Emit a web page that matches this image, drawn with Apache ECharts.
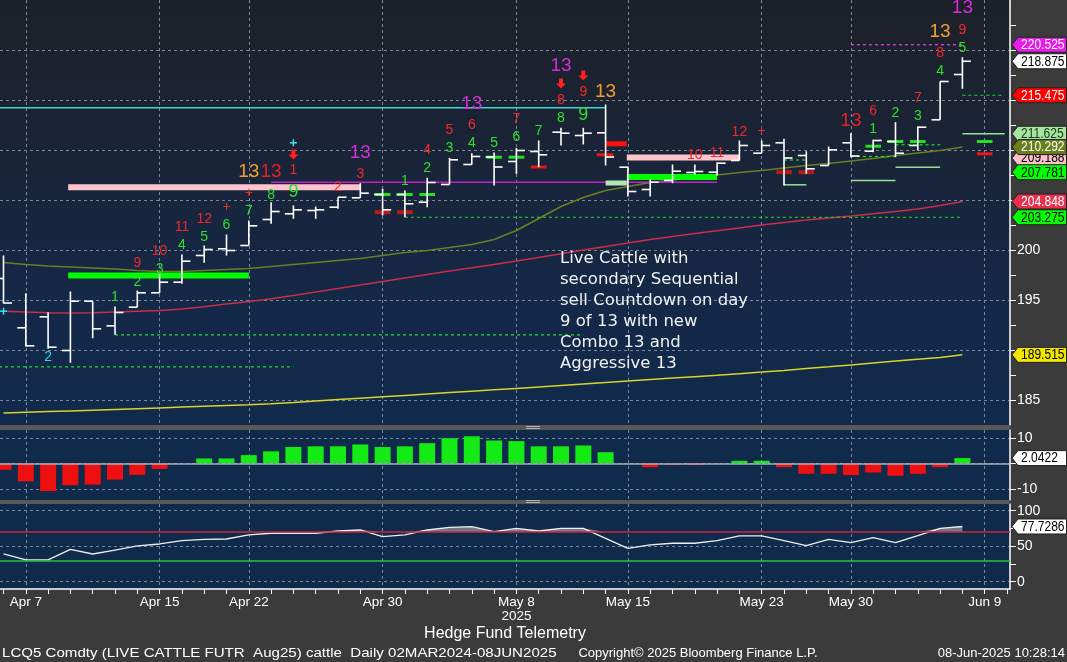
<!DOCTYPE html>
<html>
<head>
<meta charset="utf-8">
<script src="https://cdn.jsdelivr.net/npm/echarts@6/dist/echarts.min.js"></script>
<style>
html,body{margin:0;padding:0;background:#3b3b3b;}
#chart{width:1067px;height:662px;}
</style>
</head>
<body>
<div id="chart"></div>
<script>
// ---------------- DATA ----------------
const days = ['Apr 4','Apr 7','Apr 8','Apr 9','Apr 10','Apr 11','Apr 14','Apr 15','Apr 16','Apr 17',
  'Apr 21','Apr 22','Apr 23','Apr 24','Apr 25','Apr 28','Apr 29','Apr 30','May 1','May 2',
  'May 5','May 6','May 7','May 8','May 9','May 12','May 13','May 14','May 15','May 16',
  'May 19','May 20','May 21','May 22','May 23','May 27','May 28','May 29','May 30','Jun 2',
  'Jun 3','Jun 4','Jun 5','Jun 6','Jun 9','Jun 10'];
const labeledDays = ['Apr 7','Apr 15','Apr 22','Apr 30','May 8','May 15','May 23','May 30','Jun 9'];
const yearLabelDay = 'May 8';
const yearLabel = '2025';

// open, high, low, close
const ohlc = [
  [197.15,199.45,194.65,194.70],[192.22,195.68,190.35,190.42],[193.32,193.78,190.12,190.28],
  [189.95,195.85,188.72,194.88],[194.88,194.88,191.18,192.12],[192.42,194.35,191.52,193.75],
  [194.28,195.95,194.28,195.72],[195.72,197.60,195.72,196.78],[196.78,199.55,196.62,198.88],
  [199.45,200.45,198.72,200.05],[200.12,201.55,199.45,199.95],[200.45,202.95,200.45,202.42],
  [203.05,204.78,202.62,203.85],[203.62,204.45,203.12,204.02],[203.95,204.35,203.12,204.02],
  [204.28,205.28,204.12,205.28],[205.22,206.68,205.22,205.68],[205.55,206.12,203.45,204.02],
  [205.55,205.95,203.28,204.62],[204.78,207.22,204.28,206.75],[206.55,209.22,206.55,209.02],
  [208.55,209.68,208.55,209.35],[209.30,209.75,206.45,208.30],[208.85,210.20,207.62,209.95],
  [209.85,210.95,208.28,209.52],[211.78,212.22,210.45,211.68],[211.45,212.22,210.55,211.68],
  [211.72,214.55,208.45,209.30],[208.28,208.35,205.35,205.85],[206.05,207.05,205.35,206.78],
  [206.95,208.55,206.68,207.88],[207.75,208.55,207.55,207.85],[207.78,208.78,207.45,208.68],
  [208.95,210.95,208.95,210.45],[209.68,210.95,209.68,210.45],[210.72,211.12,206.45,209.20],
  [209.45,209.88,207.62,208.12],[208.45,210.35,208.45,210.02],[210.72,211.68,209.28,209.40],
  [209.88,211.02,209.78,210.95],[210.85,212.78,209.28,209.68],[210.45,212.35,209.95,212.28],
  [213.02,216.85,213.02,216.85],[217.55,219.28,216.12,218.875]
];
const maOlive = [198.75,198.55,198.4,198.3,198.2,198.1,197.95,197.85,197.85,197.95,198.05,198.15,198.35,198.55,
  198.75,198.95,199.15,199.45,199.75,199.95,200.25,200.55,201.05,201.95,203.15,204.35,205.25,205.95,206.35,
  206.75,207.0,207.25,207.5,207.75,207.95,208.2,208.45,208.65,208.9,209.15,209.45,209.7,209.95,210.292];
const maCrimson = [193.88,193.8,193.73,193.7,193.73,193.8,193.88,193.95,194.1,194.32,194.6,194.85,195.12,195.45,
  195.8,196.15,196.5,196.85,197.2,197.55,197.9,198.22,198.55,198.9,199.26,199.62,199.99,200.35,200.71,
  201.05,201.35,201.65,201.92,202.2,202.5,202.75,203.0,203.2,203.4,203.62,203.85,204.1,204.45,204.848];
const maYellow = [183.7,183.77,183.84,183.91,183.98,184.05,184.13,184.21,184.29,184.37,184.45,184.53,184.63,184.76,
  184.9,185.04,185.18,185.32,185.46,185.6,185.74,185.88,186.02,186.16,186.3,186.44,186.59,186.74,186.89,
  187.04,187.19,187.33,187.47,187.63,187.79,187.96,188.14,188.32,188.51,188.7,188.89,189.08,189.26,189.515];
const histValues = [-2.56,-7.1,-10.9,-8.6,-8.35,-6.4,-4.5,-2.2,0,1.9,1.9,3.2,4.7,6.4,6.65,6.65,7.4,6.4,6.65,7.9,
  9.85,10.6,8.95,8.7,6.65,6.65,7.0,4.35,0,-1.55,-0.65,-0.65,-0.1,1.0,1.0,-1.55,-4.1,-4.1,-4.6,-3.6,-4.9,-4.1,-1.55,2.0422];
const rsiValues = [39,30.6,30.6,45.6,39,44.6,50.3,53.1,57.7,59.7,60.1,65.8,68.2,68.2,68.2,71.4,72.8,63.4,65.8,72.8,
  76.6,77.5,70.4,75.2,71.4,75.2,75.2,61.1,47.0,51.7,54.1,54.1,57.7,64.4,64.4,57.7,50.7,59.7,54.9,62,54.9,64.8,75.2,77.7286];
const priceTicks = [185,190,195,200,205,210,215,220];
const histTicks = [-10,10];
const rsiTicks = [0,50,100];
const rsiOverbought = 70, rsiOversold = 30;
const priceLastValues = [209.188,211.625,207.781,210.292,189.515,203.275,204.848,215.475,218.875,220.525];
const histLastValue = 2.0422;
const rsiLastValue = 77.7286;

// TD counts: [day index, text, price]
const setupGreen = [[5,'1',195.28],[6,'2',196.78],[7,'3',198.12],[8,'4',200.45],[9,'5',201.25],[10,'6',202.45],
  [11,'7',203.85],[12,'8',205.52],[18,'1',206.85],[19,'2',208.15],[20,'3',210.18],[21,'4',210.68],[22,'5',210.68],
  [23,'6',211.28],[24,'7',211.9],[25,'8',213.15],[39,'1',212.05],[40,'2',213.68],[41,'3',213.35],[42,'4',217.85],[43,'5',220.22]];
const setupNines = [[13,'9',205.78],[26,'9',213.45]];
const countdownRed = [[6,'9',198.68],[7,'10',199.85],[8,'11',202.25],[9,'12',203.05],[10,'+',204.25],[11,'+',205.65],
  [13,'1',207.95],[15,'2',206.28],[16,'3',207.55],[19,'4',209.95],[20,'5',211.95],[21,'6',212.45],[23,'7',213.05],
  [25,'8',214.95],[26,'9',215.78],[31,'10',209.45],[32,'11',209.65],[33,'12',211.78],[34,'+',211.9],
  [39,'6',213.85],[41,'7',215.18],[42,'8',219.68],[43,'9',222.02]];
const buySetupCyan = [[2,'2',189.28]];
const combo13 = [[11,'13',207.78],[27,'13',215.78],[42,'13',221.78]];
const sequential13 = [[12,'13',207.78],[38,'13',212.95]];
const aggressive13 = [[16,'13',209.75],[21,'13',214.65],[25,'13',218.45],[43,'13',224.22]];
const sellArrows = [[13,209.55],[25,216.65],[26,217.45]];
const cyanCrosses = [[0,193.88],[13,210.72]];

// level segments: [from day, to day, price]
const tdstPink = [[2.9,16,206.27],[27.95,33,209.25]];
const tdstGreen = [[2.9,11,197.45],[27.95,32,207.3]];
const tdstPaleGreen = [[27,27.95,206.7]];
const tdstRed = [[27,27.95,210.62]];
const riskGreen = [[16.65,17.35,205.55],[17.65,18.35,205.55],[18.65,19.35,205.55],[21.65,22.35,209.28],[22.65,23.35,209.28],
  [38.65,39.35,210.38],[39.65,40.35,210.85],[40.65,41.35,210.85],[43.65,44.35,210.85]];
const riskDarkRed = [[16.65,17.35,203.78],[17.65,18.35,203.78],[34.65,35.35,207.78],[35.65,36.35,207.78]];
const riskRed = [[23.65,24.35,208.3],[26.6,27.35,209.52],[43.65,44.35,209.62]];
const cyanLevel = [[-0.2,27,214.23]];
const magentaLevel = [[12,32,206.78]];
const magentaDotted = [[38,43,220.525]];
const greenDotted = [[5,26,191.52],[-0.2,13,188.32],[18,43,203.275],[43,44.8,215.475],[38,40,209.35],[40,42,210.52],[35,36,209.0]];
const paleGreenLevel = [[43,44.9,211.625],[38,40,206.95],[40,42,208.28],[35,36,206.52]];

const noteLines = ['Live Cattle with','secondary Sequential','sell Countdown on day','9 of 13 with new','Combo 13 and','Aggressive 13'];

// ---------------- LAYOUT ----------------
const PLOT_W = 1010, FIRST_X = 3.5, DAY_PX = 22.3;
const X_MIN = -FIRST_X / DAY_PX, X_MAX = (PLOT_W - FIRST_X) / DAY_PX;
const SANS = '"Liberation Sans", Arial, sans-serif';
const GRID_LINE = {color:'#7a8699', width:1, type:[3,3]};

const labeledIdx = labeledDays.map(d => days.indexOf(d));
const allIdx = days.map((d, i) => i);
const priceTickMarks = priceTicks.reduce((a, v) => a.concat([v, v + 2.5]), []);

// Bloomberg hides a tick label sitting under a last-value tag
function hideUnderTags(tags) {
  return v => tags.some(t => Math.abs(t - v) < 1) ? '' : String(v);
}

function splitXAxis(gridIndex, pos) {
  return {gridIndex, type:'value', min:X_MIN, max:X_MAX, position:pos,
    axisLine:{show:false, onZero:false}, axisTick:{show:false, customValues:labeledIdx},
    axisLabel:{show:false}, splitLine:{show:true, lineStyle:GRID_LINE}};
}
function rightYAxis(gridIndex, min, max, tickMarks, labels, formatter) {
  return {gridIndex, type:'value', position:'right', min, max,
    axisLine:{show:true, onZero:false, lineStyle:{color:'#ffffff', width:1.5}},
    axisTick:{show:true, customValues:tickMarks, length:6, lineStyle:{color:'#ffffff', width:1}},
    axisLabel:{show:true, customValues:labels, color:'#ffffff', fontSize:14, fontFamily:SANS, margin:7, formatter},
    splitLine:{show:false}};
}
function splitYAxis(gridIndex, min, max, values) {
  return {gridIndex, type:'value', position:'left', min, max,
    axisLine:{show:false, onZero:false}, axisTick:{show:false, customValues:values},
    axisLabel:{show:false}, splitLine:{show:true, lineStyle:GRID_LINE}};
}

function segSeries(data, style, z) {
  return {type:'custom', xAxisIndex:0, yAxisIndex:0, z, silent:true, clip:false,
    data:data, encode:{x:[0,1], y:2},
    renderItem(params, api) {
      const a = api.coord([api.value(0), api.value(2)]);
      const b = api.coord([api.value(1), api.value(2)]);
      return {type:'line', shape:{x1:a[0], y1:a[1], x2:b[0], y2:b[1]}, style:Object.assign({fill:null}, style)};
    }};
}
function textSeries(data, color, size, z) {
  return {type:'custom', xAxisIndex:0, yAxisIndex:0, z, silent:true, clip:false,
    data:data.map(d => [d[0], d[2]]), encode:{x:0, y:1},
    renderItem(params, api) {
      const p = api.coord([api.value(0), api.value(1)]);
      return {type:'text', x:p[0], y:p[1], style:{text:data[params.dataIndex][1], fill:color,
        font:size + 'px ' + SANS, textAlign:'center', textVerticalAlign:'middle', align:'center', verticalAlign:'middle'}};
    }};
}
function valueLabelSeries(values, colors, xIdx, yIdx) {
  return {type:'custom', xAxisIndex:xIdx, yAxisIndex:yIdx, z:20, silent:true, clip:false,
    data:values.map(v => [X_MAX, v]), encode:{x:0, y:1},
    renderItem(params, api) {
      const v = api.value(1);
      const p = api.coord([api.value(0), v]);
      const c = colors[params.dataIndex];
      const x0 = p[0] + 2, y = p[1], h = 15, a = 6, x2 = api.getWidth() - 0.5;
      return {type:'group', children:[
        {type:'polygon', shape:{points:[[x0,y],[x0+a,y-h/2],[x2,y-h/2],[x2,y+h/2],[x0+a,y+h/2]]},
          style:{fill:c[0], stroke:'#202020', lineWidth:1}},
        {type:'text', x:x0 + a + 3, y:y + 0.5, scaleX:0.86,
          style:{text:String(v), fill:c[1], font:'14px ' + SANS, textAlign:'left', textVerticalAlign:'middle', align:'left', verticalAlign:'middle'}}
      ]};
    }};
}

const priceLabelColors = [['#ffc0cb','#000'],['#a4e6a0','#1c3a18'],['#00ff00','#000'],['#6a7f1c','#fff'],
  ['#f2e600','#000'],['#00ff00','#000'],['#e8304c','#fff'],['#ff0000','#fff'],['#ffffff','#000'],['#e81ce8','#fff']];

const chart = echarts.init(document.getElementById('chart'), null, {renderer:'canvas', width:1067, height:662});

const option = {
  animation:false,
  backgroundColor:'#3b3b3b',
  grid:[
    {left:0, top:0, width:PLOT_W, height:425, show:true, borderWidth:0,
      backgroundColor:new echarts.graphic.LinearGradient(0,0,0,1,[
        {offset:0, color:'#1d2028'},{offset:0.35, color:'#1a2437'},{offset:0.7, color:'#142847'},{offset:1, color:'#112a4c'}])},
    {left:0, top:430, width:PLOT_W, height:70, show:true, borderWidth:0, backgroundColor:'#0f2a4b'},
    {left:0, top:504, width:PLOT_W, height:85, show:true, borderWidth:0, backgroundColor:'#0f2a4b'}
  ],
  xAxis:[
    splitXAxis(0,'bottom'),
    splitXAxis(1,'bottom'),
    splitXAxis(2,'top'),
    {gridIndex:2, type:'value', min:X_MIN, max:X_MAX, position:'bottom',
      axisLine:{show:true, onZero:false, lineStyle:{color:'#ffffff', width:1.5}},
      axisTick:{show:true, customValues:allIdx, length:5, lineStyle:{color:'#ffffff', width:1}},
      axisLabel:{show:true, customValues:labeledIdx, color:'#ffffff', fontSize:13.5, fontFamily:SANS, margin:6, lineHeight:14,
        formatter:v => days[Math.round(v)] === yearLabelDay ? days[Math.round(v)] + '\n{yr|' + yearLabel + '}' : days[Math.round(v)],
        rich:{yr:{color:'#ffffff', fontSize:13.5, fontFamily:SANS, lineHeight:14}}},
      splitLine:{show:false}}
  ],
  yAxis:[
    rightYAxis(0, 182.5, 225, priceTickMarks, priceTicks, hideUnderTags(priceLastValues)),
    splitYAxis(0, 182.5, 225, priceTicks),
    Object.assign(rightYAxis(1, -14.39, 13.06, [-10,0,10], histTicks), {splitLine:{show:true, lineStyle:GRID_LINE}}),
    rightYAxis(2, -10.3, 109.4, [0,25,50,75,100], rsiTicks),
    splitYAxis(2, -10.3, 109.4, rsiTicks)
  ],
  series:[
    // moving averages
    {type:'line', xAxisIndex:0, yAxisIndex:0, z:2, silent:true, showSymbol:false, symbol:'none',
      data:maYellow.map((v,i)=>[i,v]), lineStyle:{color:'#d6d62a', width:1.5}},
    {type:'line', xAxisIndex:0, yAxisIndex:0, z:2, silent:true, showSymbol:false, symbol:'none',
      data:maCrimson.map((v,i)=>[i,v]), lineStyle:{color:'#c92e4a', width:1.5}},
    {type:'line', xAxisIndex:0, yAxisIndex:0, z:2, silent:true, showSymbol:false, symbol:'none',
      data:maOlive.map((v,i)=>[i,v]), lineStyle:{color:'#6a7f22', width:1.5}},
    // levels
    segSeries(greenDotted, {stroke:'#22e022', lineWidth:1.2, lineDash:[3,3]}, 3),
    segSeries(magentaDotted, {stroke:'#e040e0', lineWidth:1.3, lineDash:[3,3]}, 3),
    segSeries(paleGreenLevel, {stroke:'#98e098', lineWidth:1.5}, 3),
    segSeries(cyanLevel, {stroke:'#3cd6dc', lineWidth:1.5}, 3),
    segSeries(magentaLevel, {stroke:'#c21fc8', lineWidth:1.6}, 3),
    segSeries(tdstPink, {stroke:'#ffc4cc', lineWidth:6}, 3),
    segSeries(tdstGreen, {stroke:'#00ff00', lineWidth:6}, 3),
    segSeries(tdstPaleGreen, {stroke:'#b4e6b4', lineWidth:5}, 3),
    segSeries(tdstRed, {stroke:'#ff1010', lineWidth:5}, 3),
    segSeries(riskDarkRed, {stroke:'#b41c1c', lineWidth:4}, 3),
    segSeries(riskRed, {stroke:'#ee1414', lineWidth:3}, 3),
    segSeries(riskGreen, {stroke:'#22e022', lineWidth:3}, 3),
    // OHLC bars
    {type:'custom', xAxisIndex:0, yAxisIndex:0, z:5, silent:true,
      data:ohlc.map((d,i)=>[i, d[0], d[1], d[2], d[3]]), encode:{x:0, y:[1,2,3,4]},
      renderItem(params, api) {
        const x = api.value(0);
        const o = api.coord([x, api.value(1)]), h = api.coord([x, api.value(2)]);
        const l = api.coord([x, api.value(3)]), c = api.coord([x, api.value(4)]);
        const t = 8.5, st = {stroke:'#ffffff', lineWidth:1.6};
        return {type:'group', children:[
          {type:'line', shape:{x1:h[0], y1:h[1], x2:l[0], y2:l[1]}, style:st},
          {type:'line', shape:{x1:o[0]-t, y1:o[1], x2:o[0], y2:o[1]}, style:st},
          {type:'line', shape:{x1:c[0], y1:c[1], x2:c[0]+t, y2:c[1]}, style:st}
        ]};
      }},
    // TD annotations
    textSeries(setupGreen, '#2ee02e', 14, 6),
    textSeries(setupNines, '#2ee02e', 18, 6),
    textSeries(countdownRed, '#f02828', 14, 6),
    textSeries(buySetupCyan, '#34d4e4', 14, 6),
    textSeries(combo13, '#f0a030', 19, 6),
    textSeries(sequential13, '#e42226', 19, 6),
    textSeries(aggressive13, '#d22ed8', 19, 6),
    {type:'custom', xAxisIndex:0, yAxisIndex:0, z:6, silent:true, clip:false, data:sellArrows, encode:{x:0, y:1},
      renderItem(params, api) {
        const p = api.coord([api.value(0), api.value(1)]); const x = p[0], y = p[1];
        return {type:'polygon', shape:{points:[[x-2,y-5],[x+2,y-5],[x+2,y],[x+5,y],[x,y+5],[x-5,y],[x-2,y]]}, style:{fill:'#ff2020'}};
      }},
    {type:'custom', xAxisIndex:0, yAxisIndex:0, z:6, silent:true, clip:false, data:cyanCrosses, encode:{x:0, y:1},
      renderItem(params, api) {
        const p = api.coord([api.value(0), api.value(1)]); const x = p[0], y = p[1], s = 3.5;
        const st = {stroke:'#3ce0f0', lineWidth:1.5};
        return {type:'group', children:[
          {type:'line', shape:{x1:x-s, y1:y, x2:x+s, y2:y}, style:st},
          {type:'line', shape:{x1:x, y1:y-s, x2:x, y2:y+s}, style:st}]};
      }},
    valueLabelSeries(priceLastValues, priceLabelColors, 0, 0),
    // histogram
    {type:'bar', xAxisIndex:1, yAxisIndex:2, z:3, silent:true, barWidth:16,
      data:histValues.map((v,i)=>[i,v]),
      itemStyle:{color:p => p.value[1] >= 0 ? '#14ea14' : '#ee1010'},
      markLine:{silent:true, symbol:'none', label:{show:false}, lineStyle:{color:'#a6aeb8', width:1.5, type:'solid'},
        data:[{yAxis:0}]}},
    valueLabelSeries([histLastValue], [['#ffffff','#000']], 1, 2),
    // RSI
    {type:'line', xAxisIndex:2, yAxisIndex:3, z:2, silent:true, showSymbol:false, symbol:'none',
      data:rsiValues.map((v,i)=>[i, Math.max(v, rsiOverbought)]),
      lineStyle:{width:0, opacity:0}, areaStyle:{origin:rsiOverbought, color:'rgba(196,178,190,0.8)'}},
    {type:'line', xAxisIndex:2, yAxisIndex:3, z:4, silent:true, showSymbol:false, symbol:'none',
      data:rsiValues.map((v,i)=>[i,v]), lineStyle:{color:'#eeeeee', width:1.3},
      markLine:{silent:true, symbol:'none', label:{show:false},
        data:[{yAxis:rsiOverbought, lineStyle:{color:'#c8283e', width:1.5, type:'solid'}},
              {yAxis:rsiOversold, lineStyle:{color:'#24c43c', width:1.5, type:'solid'}}]}},
    valueLabelSeries([rsiLastValue], [['#ffffff','#000']], 2, 3)
  ],
  graphic:[
    {type:'rect', z:50, shape:{x:0, y:425, width:PLOT_W, height:5}, style:{fill:'#585858'}},
    {type:'rect', z:50, shape:{x:0, y:500, width:PLOT_W, height:4}, style:{fill:'#585858'}},
    {type:'line', z:51, shape:{x1:526, y1:426.5, x2:540, y2:426.5}, style:{stroke:'#b0b0b0', lineWidth:1}},
    {type:'line', z:51, shape:{x1:526, y1:428.5, x2:540, y2:428.5}, style:{stroke:'#b0b0b0', lineWidth:1}},
    {type:'line', z:51, shape:{x1:526, y1:500.5, x2:540, y2:500.5}, style:{stroke:'#b0b0b0', lineWidth:1}},
    {type:'line', z:51, shape:{x1:526, y1:502.5, x2:540, y2:502.5}, style:{stroke:'#b0b0b0', lineWidth:1}},
    {type:'text', z:60, x:560, y:248, style:{text:noteLines.join('\n'), fill:'#f2f2f2',
      font:'16.5px "DejaVu Sans", sans-serif', lineHeight:21, textAlign:'left', textVerticalAlign:'top'}},
    {type:'text', z:60, x:505, y:634, style:{text:'Hedge Fund Telemetry', fill:'#ffffff',
      font:'16px ' + SANS, textAlign:'center', textVerticalAlign:'middle'}},
    {type:'text', z:60, x:2, y:653, scaleX:1.16, style:{text:'LCQ5 Comdty (LIVE CATTLE FUTR  Aug25) cattle  Daily 02MAR2024-08JUN2025', fill:'#ffffff',
      font:'13px ' + SANS, textAlign:'left', textVerticalAlign:'middle'}},
    {type:'text', z:60, x:698, y:653, style:{text:'Copyright\u00a9 2025 Bloomberg Finance L.P.', fill:'#ffffff',
      font:'13px ' + SANS, textAlign:'center', textVerticalAlign:'middle'}},
    {type:'text', z:60, x:1065, y:653, style:{text:'08-Jun-2025 10:28:14', fill:'#ffffff',
      font:'13px ' + SANS, textAlign:'right', textVerticalAlign:'middle'}}
  ]
};
chart.setOption(option);
</script>
</body>
</html>
